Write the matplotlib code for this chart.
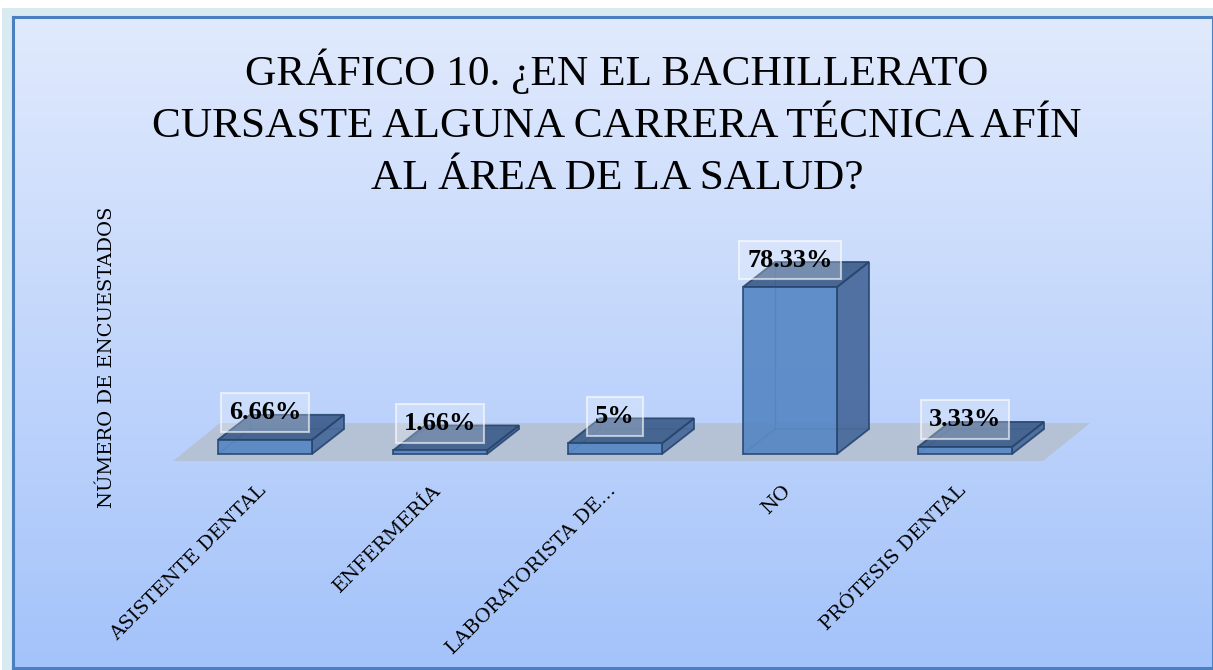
import matplotlib.pyplot as plt
import numpy as np
from matplotlib.patches import Polygon, Rectangle
from matplotlib.transforms import ScaledTranslation

# Datos del gráfico
categorias = ['ASISTENTE DENTAL', 'ENFERMERÍA', 'LABORATORISTA DE...', 'NO', 'PRÓTESIS DENTAL']
porcentajes = [6.66, 1.66, 5.0, 78.33, 3.33]
etiquetas = ['6.66%', '1.66%', '5%', '78.33%', '3.33%']

titulo = 'GRÁFICO 10. ¿EN EL BACHILLERATO\nCURSASTE ALGUNA CARRERA TÉCNICA AFÍN\nAL ÁREA DE LA SALUD?'
etiqueta_y = 'NÚMERO DE ENCUESTADOS'

W, H = 1213, 670
fig = plt.figure(figsize=(W / 100, H / 100), dpi=100)
fig.patch.set_facecolor('white')

# Marco exterior claro
fig.add_artist(Rectangle((2 / W, 0), 1, (H - 8) / H, transform=fig.transFigure,
                         facecolor='#d9eaf0', edgecolor='none', zorder=0))

# Fondo degradado del área del gráfico
fondo = fig.add_axes([13 / W, 2 / H, (W - 13) / W, (H - 17 - 2) / H], zorder=1)
grad = np.linspace(0, 1, 256).reshape(-1, 1)
arriba = np.array([225, 234, 253]) / 255
abajo = np.array([164, 195, 250]) / 255
img = arriba + (abajo - arriba) * grad[..., None]
fondo.imshow(img, aspect='auto', extent=[0, 1, 0, 1], origin='upper')
fondo.set_xticks([])
fondo.set_yticks([])
for s in fondo.spines.values():
    s.set_color('#4a7fc0')
    s.set_linewidth(2.2)

# Ejes principales: categoría 0 en x=265 px, separación 175 px; base en y=454 px
px_x = 175.0
px_v = 2.132
ymin, ymax = -5, 100
izq = 265 - 0.5 * px_x
base_y = H - 454 - (-ymin) * px_v
ax = fig.add_axes([izq / W, base_y / H, 5 * px_x / W, (ymax - ymin) * px_v / H], zorder=2)
ax.set_xlim(-0.5, 4.5)
ax.set_ylim(ymin, ymax)
ax.patch.set_alpha(0)
for s in ax.spines.values():
    s.set_visible(False)
ax.set_yticks([])

# Profundidad 3D
ancho = 94 / px_x
ddx = 32 / px_x
ddy = 25 / px_v

# Piso
f_front, f_back = -3.3, 14.5
f_x0, f_x1 = -0.526, 4.446
f_off = 47 / px_x
ax.add_patch(Polygon([(f_x0, f_front), (f_x1, f_front), (f_x1 + f_off, f_back),
                      (f_x0 + f_off, f_back)], closed=True, clip_on=False,
                     facecolor='#b5c1d5', edgecolor='none', zorder=1))

borde = '#27466e'
for i, v in enumerate(porcentajes):
    x0, x1 = i - ancho / 2, i + ancho / 2
    # aristas ocultas
    ax.plot([x0, x0 + ddx, x1 + ddx], [0, ddy, ddy], color='#3a5f90', lw=1, alpha=0.6, zorder=2)
    ax.plot([x0 + ddx, x0 + ddx], [ddy, v + ddy], color='#3a5f90', lw=1, alpha=0.6, zorder=2)
    lado = Polygon([(x1, 0), (x1 + ddx, ddy), (x1 + ddx, v + ddy), (x1, v)],
                   facecolor='#44669a', edgecolor=borde, lw=1.3, alpha=0.9, zorder=3)
    tapa = Polygon([(x0, v), (x1, v), (x1 + ddx, v + ddy), (x0 + ddx, v + ddy)],
                   facecolor='#3a5b8a', edgecolor=borde, lw=1.3, alpha=0.9, zorder=3)
    frente = Polygon([(x0, 0), (x1, 0), (x1, v), (x0, v)],
                     facecolor='#5284c2', edgecolor=borde, lw=1.3, alpha=0.88, zorder=4)
    for p in (lado, tapa, frente):
        ax.add_patch(p)
    ax.text(i, v + 27 / px_v, etiquetas[i], ha='center', va='center',
            fontsize=19, fontweight='bold', family='Liberation Serif', color='black', zorder=6,
            bbox=dict(boxstyle='square,pad=0.3', facecolor=(1, 1, 1, 0.25),
                      edgecolor=(1, 1, 1, 0.6), linewidth=1.5))

ax.set_xticks(range(len(categorias)))
ax.set_xticklabels(categorias, rotation=45, ha='right', va='top', rotation_mode='anchor',
                   fontsize=14, family='DejaVu Serif')
ax.tick_params(axis='x', length=0, pad=12)
corr = ScaledTranslation(-8 / 100, 0, fig.dpi_scale_trans)
for lbl in ax.get_xticklabels():
    lbl.set_transform(lbl.get_transform() + corr)

fig.text(107 / W, (H - 357) / H, etiqueta_y, rotation=90, ha='center', va='center',
         fontsize=14, family='DejaVu Serif', zorder=3)

fig.text(617 / W, (H - 123.5) / H, titulo, ha='center', va='center', multialignment='center',
         fontsize=31.2, family='Liberation Serif', linespacing=1.46, zorder=3)

fig.savefig('out.png', dpi=100)
